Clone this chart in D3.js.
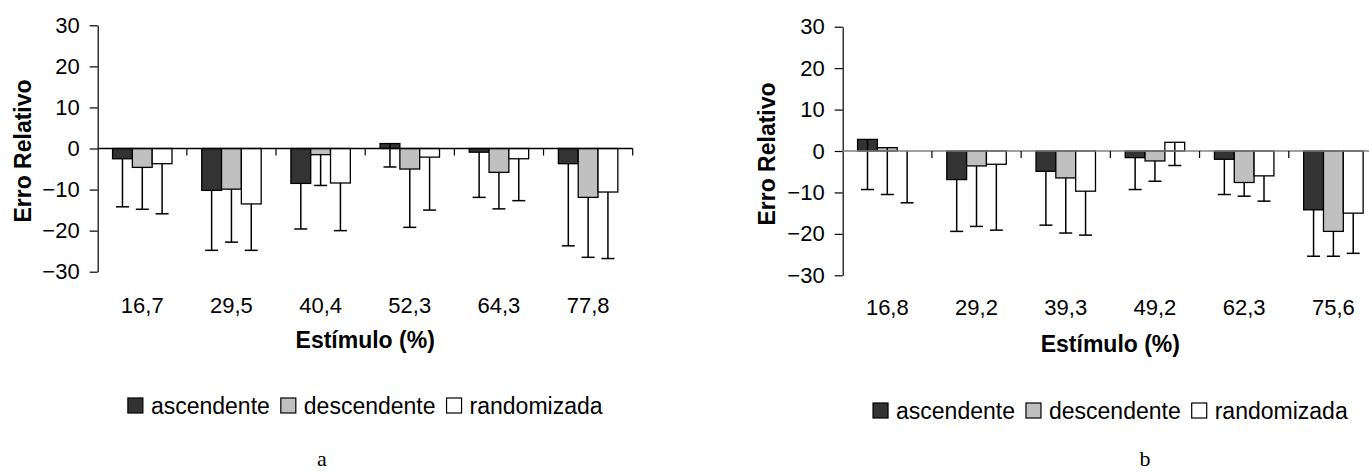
<!DOCTYPE html>
<html>
<head>
<meta charset="utf-8">
<script src="https://cdn.jsdelivr.net/npm/d3@7"></script>
<style>
  body { margin: 0; background: #fff; }
  svg { display: block; font-family: "Liberation Sans", Arial, sans-serif; }
</style>
</head>
<body>
<svg id="chart"></svg>
<script>
// DATA
const seriesNames = ["ascendente", "descendente", "randomizada"];
const yTicks = [-30, -20, -10, 0, 10, 20, 30];

// panel a
const catsA = ["16,7", "29,5", "40,4", "52,3", "64,3", "77,8"];
const ascA = [-2.5, -10.2, -8.5, 1.2, -0.9, -3.7];
const descA = [-4.6, -9.9, -1.5, -5.0, -5.8, -11.9];
const randA = [-3.7, -13.5, -8.4, -2.1, -2.5, -10.6];
const ascSdA = [11.7, 14.6, 11.1, 5.7, 11.0, 20.0];
const descSdA = [10.2, 12.9, 7.5, 14.2, 8.9, 14.6];
const randSdA = [12.2, 11.3, 11.6, 12.9, 10.2, 16.2];

// panel b
const catsB = ["16,8", "29,2", "39,3", "49,2", "62,3", "75,6"];
const ascB = [2.8, -6.9, -4.9, -1.6, -2.0, -14.2];
const descB = [0.8, -3.6, -6.5, -2.4, -7.6, -19.4];
const randB = [0, -3.2, -9.7, 2.1, -6.0, -15.0];
const ascSdB = [12.1, 12.5, 13.0, 7.7, 8.5, 11.2];
const descSdB = [11.3, 14.6, 13.3, 4.9, 3.3, 6.0];
const randSdB = [12.5, 15.9, 10.6, 5.6, 6.1, 9.7];

const colors = { ascendente: "#333333", descendente: "#c0c0c0", randomizada: "#ffffff" };

const W = 1369, H = 474;
const svg = d3.select("#chart").attr("width", W).attr("height", H);

function drawPanel(p) {
    const g = svg.append("g");

    const y = d3.scaleLinear().domain([-30, 30]).range([p.bottom, p.top]);
    const x0 = d3.scaleBand().domain(p.cats).range([p.left, p.right]);
    const x1 = d3.scaleBand().domain(seriesNames)
        .range([0, x0.bandwidth()]).paddingOuter(0.75);

    const rows = [];
    p.cats.forEach((c, i) => {
        seriesNames.forEach((s, k) => {
            rows.push({ cat: c, s: s, v: p.vals[k][i], sd: p.sds[k][i] });
        });
    });

    // bars
    g.selectAll("rect.bar")
        .data(rows)
        .join("rect")
        .attr("class", "bar")
        .attr("x", d => x0(d.cat) + x1(d.s))
        .attr("width", x1.bandwidth())
        .attr("y", d => y(Math.max(0, d.v)))
        .attr("height", d => Math.abs(y(d.v) - y(0)))
        .attr("fill", d => colors[d.s])
        .attr("stroke", "#000")
        .attr("stroke-width", 1.3);

    // error bars (down only)
    const cx = d => x0(d.cat) + x1(d.s) + x1.bandwidth() / 2;
    g.selectAll("line.err")
        .data(rows)
        .join("line")
        .attr("class", "err")
        .attr("x1", cx).attr("x2", cx)
        .attr("y1", d => y(d.v))
        .attr("y2", d => y(d.v - d.sd))
        .attr("stroke", "#000")
        .attr("stroke-width", 1.5);
    g.selectAll("line.cap")
        .data(rows)
        .join("line")
        .attr("class", "cap")
        .attr("x1", d => cx(d) - 6.5).attr("x2", d => cx(d) + 6.5)
        .attr("y1", d => y(d.v - d.sd))
        .attr("y2", d => y(d.v - d.sd))
        .attr("stroke", "#000")
        .attr("stroke-width", 1.5);

    // y axis
    const yAxis = g.append("g")
        .attr("transform", `translate(${p.left},0)`)
        .call(d3.axisLeft(y).tickValues(yTicks).tickSize(8).tickPadding(10).tickSizeOuter(0));
    yAxis.select(".domain").attr("stroke", "#000").attr("stroke-width", 1.2);
    yAxis.selectAll(".tick line").attr("stroke", "#000").attr("stroke-width", 1.2);
    yAxis.selectAll("text")
        .attr("font-family", "Liberation Sans, Arial, sans-serif")
        .attr("font-size", 22)
        .attr("fill", "#000");

    // zero line with category boundary ticks
    g.append("line")
        .attr("x1", p.left).attr("x2", p.right)
        .attr("y1", y(0)).attr("y2", y(0))
        .attr("stroke", p.zeroColor).attr("stroke-width", 1.5);
    const bounds = p.cats.map(c => x0(c)).concat([p.right]);
    g.selectAll("line.xt")
        .data(bounds.slice(1))
        .join("line")
        .attr("class", "xt")
        .attr("x1", d => d).attr("x2", d => d)
        .attr("y1", y(0)).attr("y2", y(0) + 7)
        .attr("stroke", "#000").attr("stroke-width", 1.2);

    // category labels
    g.selectAll("text.cat")
        .data(p.cats)
        .join("text")
        .attr("class", "cat")
        .attr("x", d => x0(d) + x0.bandwidth() / 2)
        .attr("y", p.labelY)
        .attr("text-anchor", "middle")
        .attr("font-size", 22)
        .text(d => d);

    const mid = (p.left + p.right) / 2;

    // axis titles
    g.append("text")
        .attr("x", mid)
        .attr("y", p.xTitleY)
        .attr("text-anchor", "middle")
        .attr("font-size", 23)
        .attr("font-weight", "bold")
        .text("Estímulo (%)");

    g.append("text")
        .attr("transform", `translate(${p.yTitleX},${p.yTitleMid}) rotate(-90)`)
        .attr("text-anchor", "middle")
        .attr("font-size", 23)
        .attr("font-weight", "bold")
        .text("Erro Relativo");

    // legend
    const leg = g.append("g");
    let lx = 0;
    seriesNames.forEach(s => {
        leg.append("rect")
            .attr("x", lx).attr("y", -8)
            .attr("width", 15).attr("height", 15)
            .attr("fill", colors[s])
            .attr("stroke", "#000").attr("stroke-width", 1.2);
        const t = leg.append("text")
            .attr("x", lx + 23).attr("y", 8)
            .attr("font-size", 23)
            .text(s);
        lx += 23 + t.node().getComputedTextLength() + 11;
    });
    lx -= 11;
    leg.attr("transform", `translate(${mid - lx / 2},${p.legendY})`);

    // caption
    g.append("text")
        .attr("x", p.capX)
        .attr("y", p.capY)
        .attr("text-anchor", "middle")
        .attr("font-family", "Liberation Serif, Times New Roman, serif")
        .attr("font-size", 22)
        .text(p.cap);
}

drawPanel({
    cats: catsA, vals: [ascA, descA, randA], sds: [ascSdA, descSdA, randSdA],
    left: 97.7, right: 632.7, top: 25.3, bottom: 271.7,
    zeroColor: "#000", labelY: 313, xTitleY: 348, yTitleX: 31, yTitleMid: 151,
    legendY: 406, cap: "a", capX: 322, capY: 466
});

drawPanel({
    cats: catsB, vals: [ascB, descB, randB], sds: [ascSdB, descSdB, randSdB],
    left: 842.7, right: 1378, top: 26.7, bottom: 275.3,
    zeroColor: "#808080", labelY: 315, xTitleY: 352, yTitleX: 775, yTitleMid: 154,
    legendY: 411, cap: "b", capX: 1145, capY: 466
});
</script>
</body>
</html>
